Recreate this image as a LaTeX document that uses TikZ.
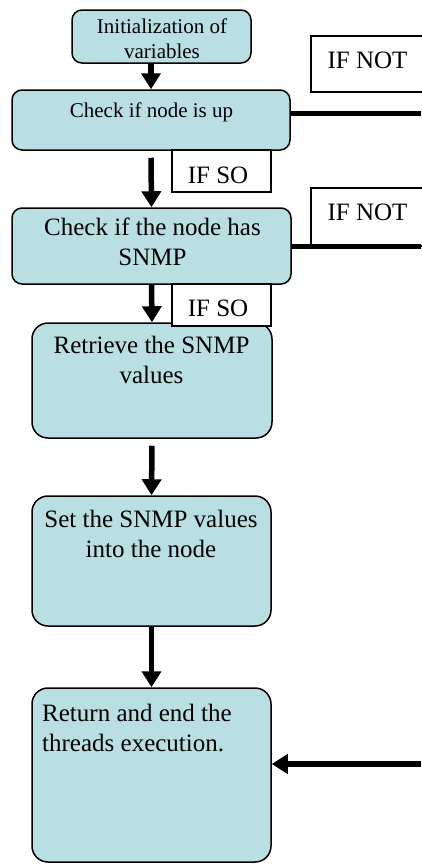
\documentclass[tikz,border=0pt]{standalone}
\usepackage{fontspec}
\setmainfont{Liberation Serif}
\usetikzlibrary{arrows.meta}
\definecolor{boxfill}{RGB}{185,223,227}
\tikzset{
  proc/.style={draw=black, line width=1.5pt, fill=boxfill, inner sep=0pt},
  cond/.style={draw=black, line width=1.2pt, fill=white, inner sep=0pt},
  big/.style={font=\fontsize{25}{29.5}\selectfont, inner sep=0pt},
  small/.style={font=\fontsize{21}{25}\selectfont, inner sep=0pt},
  flow/.style={line width=5.5pt, -{Triangle[length=16pt,width=19pt]}},
  branch/.style={line width=5pt}
}
\begin{document}
\begin{tikzpicture}[x=1pt, y=-1pt]
\useasboundingbox (0,0) rectangle (421,865);

% process boxes
\node[proc, rounded corners=10pt, minimum width=179pt, minimum height=53pt] (b1) at (161.5,36.5) {};
\node[proc, rounded corners=10pt, minimum width=278pt, minimum height=60pt] (b2) at (151,120) {};
\node[proc, rounded corners=10pt, minimum width=279pt, minimum height=76pt] (b3) at (151.5,246) {};
\node[proc, rounded corners=16pt, minimum width=240pt, minimum height=115pt] (b4) at (152,380.5) {};
\node[proc, rounded corners=16pt, minimum width=239pt, minimum height=130pt] (b5) at (151.5,561) {};
\node[proc, rounded corners=16pt, minimum width=239pt, minimum height=174pt] (b6) at (151.5,775) {};

% box texts
\node[small, align=center, anchor=north] (t1) at (162,18.7) {Initialization of\\variables};
\node[small, anchor=base] (t2) at (151.5,117) {Check if node is up};
\node[big, align=center, anchor=north] (t3) at (152.5,218) {Check if the node has\\SNMP};
\node[big, align=center, anchor=north] (t4) at (151.5,336) {Retrieve the SNMP\\values};
\node[big, align=center, anchor=north] (t5) at (151,510) {Set the SNMP values\\into the node};
\node[big, align=left, anchor=north west] (t6) at (42,704) {Return and end the\\threads execution.};

% condition labels
\node[cond, minimum width=114pt, minimum height=56pt] (n1) at (368,64) {};
\node[big, anchor=base] (n1t) at (367.5,68.3) {IF NOT};
\node[cond, minimum width=114pt, minimum height=58pt] (n2) at (368,217) {};
\node[big, anchor=base] (n2t) at (367.5,220) {IF NOT};
\node[cond, minimum width=99pt, minimum height=42pt] (s1) at (221.5,171) {};
\node[big, anchor=base] (s1t) at (218,183) {IF SO};
\node[cond, minimum width=99pt, minimum height=42pt] (s2) at (221.5,305) {};
\node[big, anchor=base] (s2t) at (218,316.7) {IF SO};

% free ends at the right margin
\coordinate (e1) at (421,113);
\coordinate (e2) at (421,246);
\coordinate (e3) at (421,764);

% main flow
\draw[flow] (b2.north |- b1.south) -- (b2.north);
\draw[flow] ([yshift=-7pt]b2.south) -- (b3.north);
\draw[flow] (b3.south) -- (b4.north);
\draw[flow] ([yshift=-7pt]b4.south) -- (b5.north);
\draw[flow] (b5.south) -- (b6.north);

% branches to the end
\draw[branch] (b2.east |- e1) -- (e1);
\draw[branch] (b3.east) -- (e2);
\draw[flow] (e3) -- (b6.east |- e3);
\end{tikzpicture}
\end{document}
